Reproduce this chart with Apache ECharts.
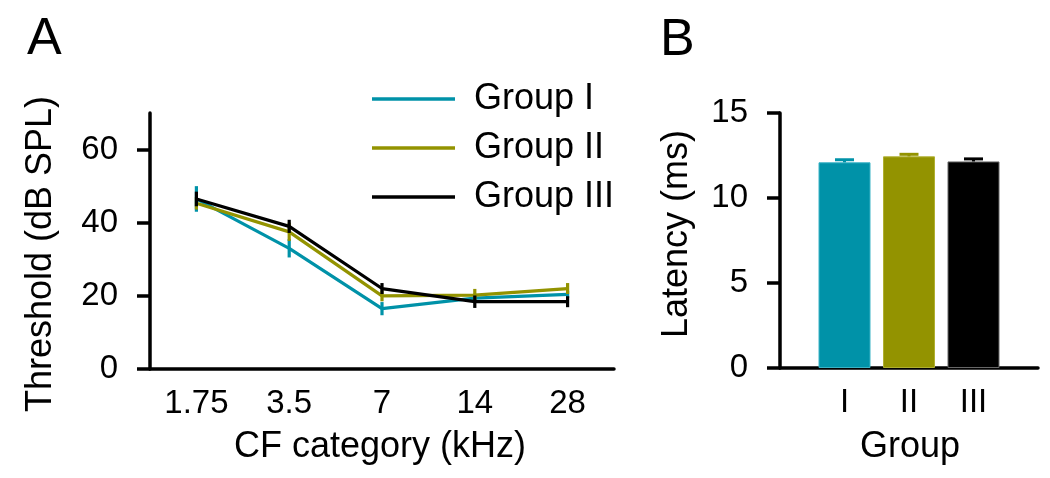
<!DOCTYPE html>
<html>
<head>
<meta charset="utf-8">
<script src="https://cdn.jsdelivr.net/npm/echarts@6/dist/echarts.min.js"></script>
<style>html,body{margin:0;padding:0;background:#fff}#c{width:1050px;height:478px}</style>
</head>
<body>
<div id="c"></div>
<script>
// ---- data ----
const categories = ['1.75', '3.5', '7', '14', '28'];
const groupNames = ['Group I', 'Group II', 'Group III'];
const thrG1 = [46.5, 33.0, 16.5, 19.4, 20.4];
const errG1 = [3.5, 2.5, 1.8, 1.2, 1.0];
const thrG2 = [45.3, 37.5, 20.0, 20.2, 22.0];
const errG2 = [1.7, 2.5, 1.5, 1.7, 1.5];
const thrG3 = [46.5, 39.0, 22.0, 18.4, 18.4];
const errG3 = [2.0, 1.8, 1.5, 1.7, 1.5];
const barLabels = ['I', 'II', 'III'];
const latMean = [12.1, 12.45, 12.15];
const latErr = [0.15, 0.12, 0.15];
const yTicksA = [0, 20, 40, 60];

const colors = ['#0092a8', '#939300', '#000000'];
const borders = ['#3ab3c6', '#b0b030', '#666666'];
const FONT = '"Liberation Sans", Arial, Helvetica, sans-serif';

const thr = [thrG1, thrG2, thrG3];
const err = [errG1, errG2, errG3];

const chart = echarts.init(document.getElementById('c'), null, {renderer: 'canvas'});

const series = [];
thr.forEach((vals, g) => {
  series.push({
    name: groupNames[g], type: 'line', xAxisIndex: 0, yAxisIndex: 0,
    data: vals, symbol: 'none', showSymbol: false,
    lineStyle: {color: colors[g], width: 3.2}, itemStyle: {color: colors[g]},
    z: 2 + g * 2
  });
  series.push({
    type: 'custom', xAxisIndex: 0, yAxisIndex: 0, silent: true,
    data: vals.map((v, i) => [i, v - err[g][i], v + err[g][i]]),
    encode: {x: 0, y: [1, 2]},
    z: 3 + g * 2,
    renderItem: function (params, api) {
      const x = api.value(0);
      const lo = api.coord([x, api.value(1)]);
      const hi = api.coord([x, api.value(2)]);
      return {type: 'line', shape: {x1: lo[0], y1: lo[1], x2: hi[0], y2: hi[1]},
              style: {stroke: colors[g], lineWidth: 3.2}};
    }
  });
});

series.push({
  type: 'bar', xAxisIndex: 1, yAxisIndex: 1, barWidth: 52,
  data: latMean.map((v, i) => ({value: [i, v], itemStyle: {color: colors[i], borderColor: borders[i], borderWidth: 1}})),
  z: 2
});
series.push({
  type: 'custom', xAxisIndex: 1, yAxisIndex: 1, silent: true, z: 3,
  data: latMean.map((v, i) => [i, v, v + latErr[i]]),
  encode: {x: 0, y: [1, 2]},
  renderItem: function (params, api) {
    const i = api.value(0);
    const lo = api.coord([i, api.value(1)]);
    const hi = api.coord([i, api.value(2)]);
    const c = colors[params.dataIndex];
    return {type: 'group', children: [
      {type: 'line', shape: {x1: lo[0], y1: lo[1], x2: hi[0], y2: hi[1]}, style: {stroke: c, lineWidth: 3}},
      {type: 'line', shape: {x1: hi[0] - 9.5, y1: hi[1], x2: hi[0] + 9.5, y2: hi[1]}, style: {stroke: c, lineWidth: 3}}
    ]};
  }
});

const axisLineStyle = {color: '#000', width: 3.5};
const tickLabel = {color: '#000', fontSize: 33, fontFamily: FONT};

const option = {
  animation: false,
  backgroundColor: '#fff',
  textStyle: {fontFamily: FONT},
  grid: [
    {left: 150, top: 113, width: 464, height: 256},
    {left: 780, top: 113, width: 258, height: 255}
  ],
  xAxis: [
    {gridIndex: 0, type: 'category', data: categories, boundaryGap: true,
     axisLine: {onZero: false, lineStyle: axisLineStyle},
     axisTick: {alignWithLabel: true, length: 8, lineStyle: {color: '#000', width: 3.5}},
     axisLabel: Object.assign({margin: 18}, tickLabel),
     splitLine: {show: false}},
    {gridIndex: 1, type: 'value', min: -1, max: 3,
     axisLine: {onZero: false, lineStyle: axisLineStyle},
     axisTick: {show: false},
     axisLabel: Object.assign({margin: 18, customValues: [0, 1, 2],
       formatter: v => barLabels[Math.round(v)] || ''}, tickLabel),
     splitLine: {show: false}}
  ],
  yAxis: [
    {gridIndex: 0, type: 'value', min: 0, max: 70,
     axisLine: {show: true, onZero: false, lineStyle: axisLineStyle},
     axisTick: {show: true, length: 13, customValues: yTicksA, lineStyle: {color: '#000', width: 3.5}},
     axisLabel: Object.assign({margin: 32, customValues: yTicksA}, tickLabel),
     splitLine: {show: false}},
    {gridIndex: 1, type: 'value', min: 0, max: 15, interval: 5,
     axisLine: {show: true, onZero: false, lineStyle: axisLineStyle},
     axisTick: {show: true, length: 13, lineStyle: {color: '#000', width: 3.5}},
     axisLabel: Object.assign({margin: 32}, tickLabel),
     splitLine: {show: false}}
  ],
  legend: {
    data: groupNames.map(n => ({name: n, icon: 'rect'})),
    orient: 'vertical', left: 372, top: 81, padding: 0,
    itemWidth: 83, itemHeight: 3.5, itemGap: 13, selectedMode: false,
    textStyle: {color: '#000', fontSize: 36, fontFamily: FONT, lineHeight: 34, padding: [0, 0, 0, 14]}
  },
  graphic: [
    {type: 'text', left: 27, top: 14, style: {text: 'A', fontSize: 52, fontFamily: FONT, fill: '#000'}},
    {type: 'text', left: 660, top: 15, style: {text: 'B', fontSize: 52, fontFamily: FONT, fill: '#000'}},
    {type: 'text', x: 41, y: 254, rotation: Math.PI / 2,
     style: {text: 'Threshold (dB SPL)', fontSize: 36, fontFamily: FONT, fill: '#000', align: 'center', verticalAlign: 'middle'}},
    {type: 'text', x: 677, y: 234, rotation: Math.PI / 2,
     style: {text: 'Latency (ms)', fontSize: 36, fontFamily: FONT, fill: '#000', align: 'center', verticalAlign: 'middle'}},
    {type: 'text', x: 380, y: 447,
     style: {text: 'CF category (kHz)', fontSize: 36, fontFamily: FONT, fill: '#000', align: 'center', verticalAlign: 'middle'}},
    {type: 'text', x: 910, y: 447,
     style: {text: 'Group', fontSize: 36, fontFamily: FONT, fill: '#000', align: 'center', verticalAlign: 'middle'}}
  ],
  series: series
};
chart.setOption(option);
</script>
</body>
</html>
